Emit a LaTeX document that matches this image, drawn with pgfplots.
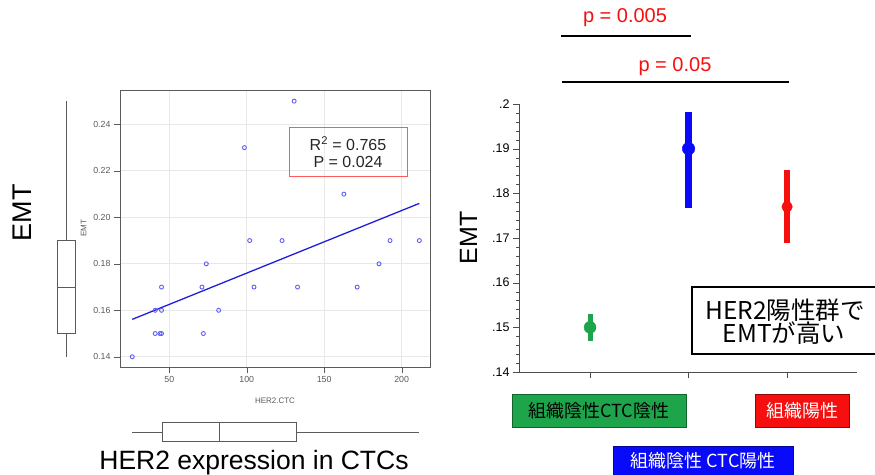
\documentclass[border=0pt]{standalone}
\usepackage{pgfplots}
\pgfplotsset{compat=1.18}
\usepgfplotslibrary{statistics}
\usepackage{fontspec}
\setmainfont{Liberation Sans}
\newfontfamily\cjk{Noto Sans CJK JP}
\definecolor{ptblue}{RGB}{95,95,245}
\definecolor{lineblue}{RGB}{30,30,220}
\definecolor{grpgreen}{RGB}{30,165,75}
\definecolor{grpblue}{RGB}{10,10,250}
\definecolor{grpred}{RGB}{245,15,15}
\definecolor{framegray}{RGB}{90,90,90}

\begin{document}
\begin{tikzpicture}
\useasboundingbox (0pt,0pt) rectangle (875pt,474pt);

% ---------- scatter: EMT vs HER2.CTC ----------
\begin{axis}[at={(120pt,107pt)}, anchor=south west, scale only axis,
  width=310pt, height=277pt,
  xmin=18.2, xmax=218.3, ymin=0.1356, ymax=0.2548,
  xtick={50,100,150,200}, ytick={0.14,0.16,0.18,0.20,0.22,0.24},
  yticklabel style={/pgf/number format/fixed, /pgf/number format/precision=2,
    /pgf/number format/fixed zerofill},
  /pgf/number format/assume math mode=true,
  grid=major, grid style={gray!18, line width=0.8pt},
  axis line style={framegray, line width=0.9pt},
  tick align=outside, tick pos=left, major tick length=6pt,
  tick style={framegray},
  ticklabel style={font=\fontsize{8.8}{10}\selectfont, text=framegray},
  xlabel={HER2.CTC}, ylabel={EMT},
  xlabel style={font=\fontsize{8}{9}\selectfont, text=framegray, yshift=-8pt},
  ylabel style={font=\fontsize{8}{9}\selectfont, text=framegray}]
\addplot[only marks, mark=o, mark size=2pt, ptblue, mark options={line width=0.9pt}] coordinates {
  (130.6,0.25) (98.5,0.23) (162.7,0.21)
  (101.9,0.19) (122.8,0.19) (192.5,0.19) (211.4,0.19)
  (73.9,0.18) (185.4,0.18)
  (45.0,0.17) (71.1,0.17) (104.7,0.17) (132.8,0.17) (171.3,0.17)
  (40.9,0.16) (45.0,0.16) (81.9,0.16)
  (40.9,0.15) (44.0,0.15) (45.0,0.15) (72.0,0.15)
  (26.1,0.14)
};
\addplot[lineblue, line width=1.3pt] coordinates {(26.1,0.1561) (211.4,0.2060)};
\end{axis}

% ---------- marginal box plot of EMT ----------
\begin{axis}[at={(46pt,107pt)}, anchor=south west, scale only axis,
  width=40pt, height=277pt, xmin=0, xmax=2, ymin=0.1356, ymax=0.2548, hide axis]
\addplot[framegray, line width=0.8pt, boxplot prepared={draw position=1,
  lower whisker=0.14, lower quartile=0.15, median=0.17,
  upper quartile=0.19, upper whisker=0.25,
  box extend=0.9, whisker extend=0, draw direction=y}] coordinates {};
\end{axis}

% ---------- marginal box plot of HER2.CTC ----------
\begin{axis}[at={(120pt,22pt)}, anchor=south west, scale only axis,
  width=310pt, height=40pt, xmin=18.2, xmax=218.3, ymin=0, ymax=2, hide axis]
\addplot[framegray, line width=0.8pt, boxplot prepared={draw position=1,
  lower whisker=26.1, lower quartile=45.3, median=82.1,
  upper quartile=131.9, upper whisker=211.4,
  box extend=0.95, whisker extend=0, draw direction=x}] coordinates {};
\end{axis}

% ---------- group means with error bars ----------
\begin{axis}[at={(519pt,102pt)}, anchor=south west, scale only axis,
  width=338pt, height=268pt,
  xmin=0.279, xmax=3.71, ymin=0.14, ymax=0.2,
  axis x line*=bottom, axis y line*=left, axis line style={-, black!70, line width=0.8pt},
  xtick={1,2,3}, xticklabels={},
  ytick={0.14,0.15,0.16,0.17,0.18,0.19,0.2},
  yticklabels={.14,.15,.16,.17,.18,.19,.2},
  minor y tick num=4,
  tick align=outside, major tick length=6pt, minor tick length=3pt,
  tick style={black!70},
  ticklabel style={font=\fontsize{12.5}{14}\selectfont},
  ylabel={EMT}, ylabel style={font=\fontsize{25}{28}\selectfont, yshift=8pt}]
\addplot[only marks, mark=*, mark size=6pt, grpgreen,
  error bars/.cd, y dir=both, y explicit, error mark=none,
  error bar style={line width=5pt, grpgreen}] coordinates {(1,0.15) +- (0,0.003)};
\addplot[only marks, mark=*, mark size=6.3pt, grpblue,
  error bars/.cd, y dir=both, y explicit, error mark=none,
  error bar style={line width=6.3pt, grpblue}] coordinates {(2,0.19) += (0,0.0081) -= (0,0.0133)};
\addplot[only marks, mark=*, mark size=5.3pt, grpred,
  error bars/.cd, y dir=both, y explicit, error mark=none,
  error bar style={line width=6.3pt, grpred}] coordinates {(3,0.177) += (0,0.0083) -= (0,0.0082)};
\end{axis}

\begin{scope}[x=1pt,y=1pt]
\node[draw=red!65, line width=0.9pt, minimum width=118pt, minimum height=49pt,
  align=center, font=\fontsize{16}{17}\selectfont, text=black!85] at (348,322)
  {R\textsuperscript{2} = 0.765\\P = 0.024};

\node[rotate=90, font=\fontsize{27}{30}\selectfont] at (22,261) {EMT};
\node[anchor=base, font=\fontsize{26.5}{30}\selectfont] at (254,5) {HER2 expression in CTCs};

% p-value brackets
\draw[line width=2.6pt] (561,438) -- (691,438);
\node[text=grpred, font=\fontsize{20}{22}\selectfont] at (625,456) {p = 0.005};
\draw[line width=2.6pt] (562,392) -- (789,392);
\node[text=grpred, font=\fontsize{20}{22}\selectfont] at (675,407) {p = 0.05};

% annotation box
\draw[line width=1.4pt, fill=white] (692,187) rectangle (882,120);
\node[font=\cjk\fontsize{24.5}{25}\selectfont] at (785,164) {HER2陽性群で};
\node[font=\cjk\fontsize{24.5}{25}\selectfont] at (784,141) {EMTが高い};

% group labels
\draw[fill=grpgreen, draw=grpgreen!60!black] (512,47) rectangle (686,80);
\node[font=\cjk\fontsize{18}{20}\selectfont] at (599,63.5) {組織陰性CTC陰性};
\draw[fill=grpred, draw=grpred!60!black] (755,47) rectangle (849,80);
\node[text=white, font=\cjk\fontsize{18}{20}\selectfont] at (802,63.5) {組織陽性};
\draw[fill=grpblue, draw=grpblue!60!black] (613,28) rectangle (793,-6);
\node[text=white, font=\cjk\fontsize{18}{20}\selectfont] at (703,13) {組織陰性 CTC陽性};
\end{scope}
\end{tikzpicture}
\end{document}
